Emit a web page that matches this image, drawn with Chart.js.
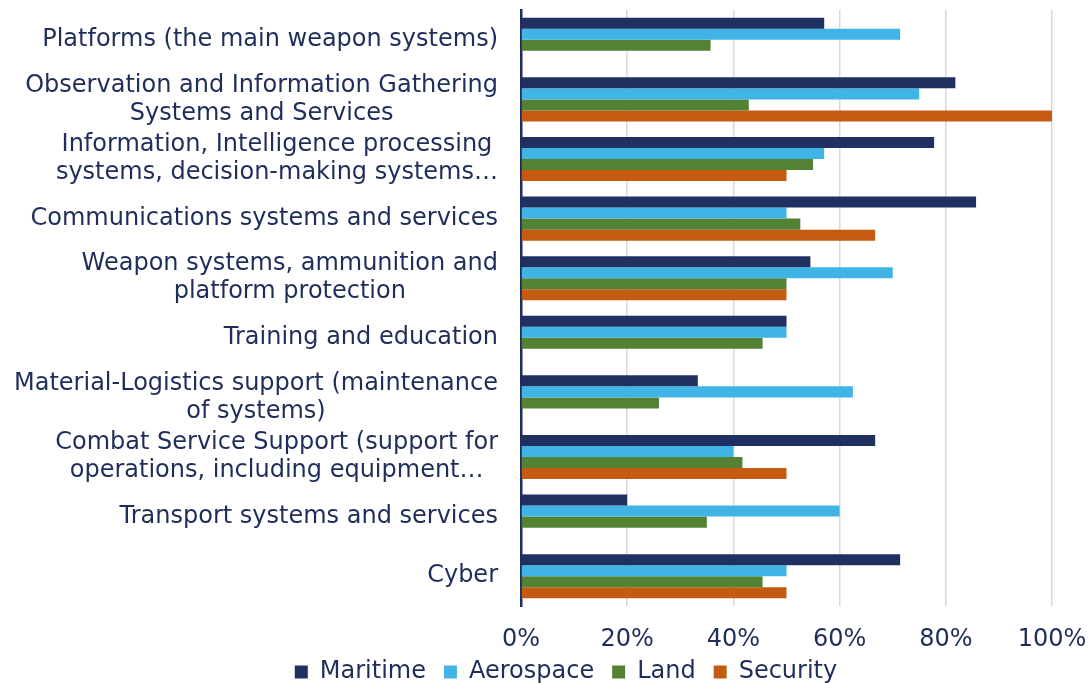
<!DOCTYPE html>
<html lang="en">
<head>
  <meta charset="UTF-8" />
  <title>Capability areas by domain</title>
  <script src="https://cdn.jsdelivr.net/npm/chart.js"></script>
  <style>
    html, body { margin: 0; padding: 0; background: #fff; }
    #wrap { width: 1088px; height: 683px; position: relative; }
  </style>
</head>
<body>
  <div id="wrap"><canvas id="chart"></canvas></div>
  <script>
    const categories = [
      ["Platforms (the main weapon systems)"],
      ["Observation and Information Gathering", "Systems and Services"],
      ["Information, Intelligence processing", "systems, decision-making systems…"],
      ["Communications systems and services"],
      ["Weapon systems, ammunition and", "platform protection"],
      ["Training and education"],
      ["Material-Logistics support (maintenance", "of systems)"],
      ["Combat Service Support (support for", "operations, including equipment…"],
      ["Transport systems and services"],
      ["Cyber"]
    ];
    const maritime  = [0.571, 0.818, 0.778, 0.857, 0.545, 0.50, 0.333, 0.667, 0.20, 0.714];
    const aerospace = [0.714, 0.75, 0.571, 0.50, 0.70, 0.50, 0.625, 0.40, 0.60, 0.50];
    const land      = [0.357, 0.429, 0.55, 0.526, 0.50, 0.455, 0.26, 0.417, 0.35, 0.455];
    const security  = [null, 1.0, 0.50, 0.667, 0.50, null, null, 0.50, null, 0.50];
    const xTicks = [0, 0.2, 0.4, 0.6, 0.8, 1.0];

    const navy = '#1f2d5a';
    const font = 'DejaVu Sans, Verdana, sans-serif';

    // Excel-style category labels: block right aligned, lines centred inside it
    const catLabels = {
      id: 'catLabels',
      afterDraw(chart) {
        const ctx = chart.ctx;
        const y = chart.scales.y;
        const right = y.right - 23;
        const lineH = 28;
        ctx.save();
        ctx.font = '24px ' + font;
        ctx.fillStyle = navy;
        ctx.textAlign = 'center';
        ctx.textBaseline = 'middle';
        categories.forEach((lines, i) => {
          const cy = y.getPixelForTick(i);
          const w = Math.max(...lines.map(l => ctx.measureText(l).width));
          const cx = right - w / 2;
          lines.forEach((l, j) => {
            ctx.fillText(l, cx, cy + (j - (lines.length - 1) / 2) * lineH);
          });
        });
        ctx.restore();
      }
    };

    // pull the legend up a bit so it sits tight under the tick labels
    const legendNudge = {
      id: 'legendNudge',
      afterLayout(chart) {
        const lg = chart.legend;
        if (!lg) return;
        lg.top -= 14;
        lg.bottom -= 14;
      }
    };

    new Chart(document.getElementById('chart'), {
      type: 'bar',
      data: {
        labels: categories,
        datasets: [
          { label: 'Maritime', data: maritime, backgroundColor: '#203060' },
          { label: 'Aerospace', data: aerospace, backgroundColor: '#41b4e6' },
          { label: 'Land', data: land, backgroundColor: '#548235' },
          { label: 'Security', data: security, backgroundColor: '#c55a11' }
        ]
      },
      options: {
        indexAxis: 'y',
        responsive: true,
        maintainAspectRatio: false,
        animation: false,
        categoryPercentage: 0.74,
        barPercentage: 1.0,
        layout: { padding: { top: 10, right: 36, left: 80, bottom: -25 } },
        plugins: {
          tooltip: { enabled: false },
          legend: {
            position: 'bottom',
            labels: {
              color: navy,
              font: { family: font, size: 24 },
              boxWidth: 13,
              boxHeight: 13,
              padding: 18
            }
          }
        },
        scales: {
          x: {
            min: 0,
            max: 1,
            afterBuildTicks: s => { s.ticks = xTicks.map(v => ({ value: v })); },
            afterFit: s => { s.height = 50; s.paddingLeft = 0; s.paddingRight = 0; },
            ticks: {
              color: navy,
              font: { family: font, size: 24 },
              padding: 19,
              maxRotation: 0,
              callback: v => Math.round(v * 100) + '%'
            },
            grid: { color: '#d9d9d9', lineWidth: 1.5, drawTicks: false },
            border: { display: false }
          },
          y: {
            afterFit: s => { s.width = 441; },
            ticks: { display: false },
            grid: { display: false },
            border: { display: true, color: navy, width: 2.5 }
          }
        }
      },
      plugins: [catLabels, legendNudge]
    });
  </script>
</body>
</html>
